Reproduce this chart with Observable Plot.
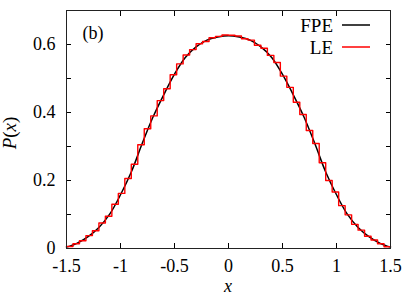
<!DOCTYPE html>
<html><head><meta charset="utf-8">
<script src="https://cdn.jsdelivr.net/npm/d3@7"></script>
<script src="https://cdn.jsdelivr.net/npm/@observablehq/plot@0.6"></script>
<style>body{margin:0;background:#fff}</style>
</head><body><div id="chart"></div>
<script>
// FPE (smooth curve) sample points
const fpeX = [-1.5,-1.4,-1.3,-1.2,-1.1,-1.0,-0.9,-0.8,-0.7,-0.6,-0.5,-0.4,-0.3,-0.2,-0.1,0,
              0.1,0.2,0.3,0.4,0.5,0.6,0.7,0.8,0.9,1.0,1.1,1.2,1.3,1.4,1.5];
const fpeY = [0.004,0.016,0.035,0.062,0.101,0.158,0.225,0.308,0.386,0.452,0.513,0.562,0.593,0.613,0.622,0.626,
              0.622,0.613,0.593,0.562,0.512,0.452,0.386,0.308,0.225,0.158,0.101,0.062,0.035,0.016,0.004];
// LE histogram: 50 bins of width 0.06 starting at -1.5
const leStart = -1.5;
const leWidth = 0.06;
const leY = [0.006,0.014,0.023,0.038,0.052,0.075,0.095,0.130,0.162,0.206,
             0.248,0.305,0.352,0.390,0.435,0.470,0.511,0.543,0.569,0.585,
             0.602,0.609,0.620,0.624,0.628,0.627,0.625,0.617,0.613,0.598,
             0.589,0.568,0.547,0.507,0.474,0.430,0.394,0.347,0.309,0.252,
             0.200,0.166,0.126,0.099,0.071,0.054,0.036,0.025,0.014,0.005];
const xTicks = [-1.5,-1,-0.5,0,0.5,1,1.5];
const yTicks = [0,0.1,0.2,0.3,0.4,0.5,0.6];
const yLabels = [0,0.2,0.4,0.6];
const seriesNames = ["FPE","LE"];
const seriesColors = ["#000000","#ff0000"];
const panelLabel = "(b)";

const fpe = fpeX.map((x,i)=>({x, y: fpeY[i]}));
const le = leY.map((y,i)=>({x: leStart + i*leWidth, y}));
le.push({x: leStart + leY.length*leWidth, y: leY[leY.length-1]});

const fmt = d => String(d);
const blank = () => "";
const FONT = "Liberation Serif";

const plot = Plot.plot({
  width: 407, height: 296,
  marginLeft: 66, marginRight: 17, marginTop: 10, marginBottom: 48,
  x: {domain: [-1.5, 1.5]},
  y: {domain: [0, 0.7]},
  style: {fontFamily: FONT, fontSize: "18px", color: "#000", background: "#fff"},
  marks: [
    Plot.axisX({ticks: xTicks, tickSize: -5, tickPadding: 16, tickFormat: fmt, label: null, fontFamily: FONT}),
    Plot.axisX({anchor: "top", ticks: xTicks, tickSize: -5, tickFormat: blank, label: null}),
    Plot.axisY({ticks: yTicks, tickSize: -5, tickFormat: blank, label: null}),
    Plot.axisY({ticks: yLabels, tickSize: 0, tickPadding: 11, tickFormat: fmt, label: null, fontFamily: FONT}),
    Plot.axisY({anchor: "right", ticks: yTicks, tickSize: -5, tickFormat: blank, label: null}),
    Plot.line(fpe, {x: "x", y: "y", stroke: seriesColors[0], strokeWidth: 1.5, curve: "catmull-rom"}),
    Plot.line(le, {x: "x", y: "y", stroke: seriesColors[1], strokeWidth: 1.4, curve: "step-after"}),
    Plot.frame({stroke: "#222", strokeWidth: 1}),
    Plot.text([panelLabel], {text: d => d, frameAnchor: "top-left", dx: 16, dy: 16, fontSize: 18, textAnchor: "start", fontFamily: FONT})
  ]
});

const svg = d3.select(plot);
const lg = svg.append("g").attr("font-size", 19).attr("font-family", FONT);
seriesNames.forEach((name, i) => {
  const y = 25 + i * 22;
  lg.append("text").attr("x", 333).attr("y", y).attr("dy", "0.35em").attr("text-anchor", "end").attr("fill", "#000").text(name);
  lg.append("line").attr("x1", 342).attr("x2", 370).attr("y1", y).attr("y2", y)
    .attr("stroke", seriesColors[i]).attr("stroke-width", 1.5);
});
// axis labels
const yl = svg.append("text").attr("transform", "translate(16,133) rotate(-90)")
  .attr("text-anchor", "middle").attr("font-size", 19).attr("fill", "#000").attr("font-family", FONT);
yl.append("tspan").attr("font-style", "italic").text("P");
yl.append("tspan").text("(");
yl.append("tspan").attr("font-style", "italic").text("x");
yl.append("tspan").text(")");
svg.append("text").attr("x", 228).attr("y", 292).attr("text-anchor", "middle").attr("font-family", FONT)
  .attr("font-size", 18).attr("font-style", "italic").attr("fill", "#000").text("x");

document.getElementById("chart").appendChild(plot);
</script>
</body></html>
